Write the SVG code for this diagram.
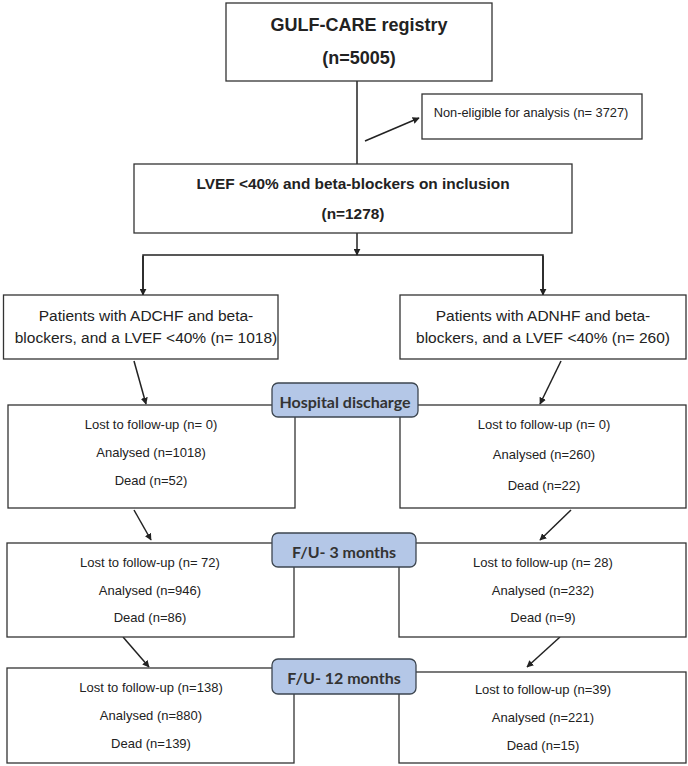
<svg xmlns="http://www.w3.org/2000/svg" width="688" height="766" viewBox="0 0 688 766">
<style>
.box{fill:#fff;stroke:#333;stroke-width:1.3}
.lbl{fill:#b4c7e7;stroke:#3d4650;stroke-width:1.3}
.t{font-family:"Liberation Sans",Arial,sans-serif;fill:#222;text-anchor:middle;dominant-baseline:central}
.tb{font-family:"Liberation Sans",Arial,sans-serif;font-weight:bold;fill:#222;text-anchor:middle;dominant-baseline:central}
.tl{font-family:Lato,"Open Sans",sans-serif;font-weight:bold;fill:#333;text-anchor:middle;dominant-baseline:central;font-size:16px}
.c{stroke:#222;stroke-width:1.5;fill:none}
.ca{stroke:#222;stroke-width:1.5;fill:none;marker-end:url(#ah)}
</style>
<defs>
<marker id="ah" viewBox="0 0 10 10" refX="9" refY="5" markerWidth="7" markerHeight="7" markerUnits="userSpaceOnUse" orient="auto">
<path d="M0,0 L10,5 L0,10 z" fill="#222"/>
</marker>
</defs>
<rect width="688" height="766" fill="#fff"/>
<g id="connectors">
<line class="c" x1="357" y1="81" x2="357" y2="164"/>
<line class="ca" x1="365" y1="141" x2="419" y2="118"/>
<line class="ca" x1="357" y1="233" x2="357" y2="255"/>
<polyline class="c" points="143,295 143,255 543,255 543,295"/>
<line class="ca" x1="143" y1="256" x2="143" y2="295"/>
<line class="ca" x1="543" y1="256" x2="543" y2="295"/>
<line class="ca" x1="134" y1="361" x2="146" y2="404"/>
<line class="ca" x1="561" y1="361" x2="540" y2="404"/>
<line class="ca" x1="134" y1="510" x2="151" y2="540"/>
<line class="ca" x1="571" y1="510" x2="540" y2="540"/>
<line class="ca" x1="123" y1="637" x2="149" y2="667"/>
<line class="ca" x1="560" y1="637" x2="527" y2="667"/>
</g>
<g id="registry">
<rect class="box" x="226" y="3" width="266" height="78"/>
<text class="tb" x="359" y="25" font-size="18">GULF-CARE registry</text>
<text class="tb" x="359" y="58" font-size="18">(n=5005)</text>
</g>
<g id="noneligible">
<rect class="box" x="422" y="94" width="220" height="45"/>
<text class="t" x="531" y="112" font-size="12.8">Non-eligible for analysis (n= 3727)</text>
</g>
<g id="lvef">
<rect class="box" x="134" y="164" width="438" height="69"/>
<text class="tb" x="353" y="183" font-size="15.4">LVEF &lt;40% and beta-blockers on inclusion</text>
<text class="tb" x="353" y="213" font-size="15.4">(n=1278)</text>
</g>
<g id="adchf">
<rect class="box" x="3.5" y="295" width="274.5" height="64"/>
<text class="t" x="146" y="315" font-size="15.5">Patients with ADCHF and beta-</text>
<text class="t" x="146" y="337" font-size="15.5">blockers, and a LVEF &lt;40% (n= 1018)</text>
</g>
<g id="adnhf">
<rect class="box" x="400" y="295" width="286" height="64"/>
<text class="t" x="543" y="315" font-size="15.5">Patients with ADNHF and beta-</text>
<text class="t" x="543" y="337" font-size="15.5">blockers, and a LVEF &lt;40% (n= 260)</text>
</g>
<g id="left-discharge">
<rect class="box" x="8" y="405" width="287" height="103"/>
<text class="t" x="151" y="424" font-size="13">Lost to follow-up (n= 0)</text>
<text class="t" x="151" y="452" font-size="13">Analysed (n=1018)</text>
<text class="t" x="151" y="480" font-size="13">Dead (n=52)</text>
</g>
<g id="right-discharge">
<rect class="box" x="400" y="405" width="286" height="103"/>
<text class="t" x="544" y="424" font-size="13">Lost to follow-up (n= 0)</text>
<text class="t" x="544" y="454" font-size="13">Analysed (n=260)</text>
<text class="t" x="544" y="485" font-size="13">Dead (n=22)</text>
</g>
<g id="hospital-discharge">
<rect class="lbl" x="272" y="383" width="146" height="34" rx="6"/>
<text class="tl" x="345" y="401">Hospital discharge</text>
</g>
<g id="left-3m">
<rect class="box" x="7" y="543" width="287" height="94"/>
<text class="t" x="150" y="562" font-size="13">Lost to follow-up (n= 72)</text>
<text class="t" x="150" y="590" font-size="13">Analysed (n=946)</text>
<text class="t" x="150" y="617" font-size="13">Dead (n=86)</text>
</g>
<g id="right-3m">
<rect class="box" x="399" y="543" width="287" height="94"/>
<text class="t" x="543" y="562" font-size="13">Lost to follow-up (n= 28)</text>
<text class="t" x="543" y="590" font-size="13">Analysed (n=232)</text>
<text class="t" x="543" y="617" font-size="13">Dead (n=9)</text>
</g>
<g id="fu-3">
<rect class="lbl" x="272" y="533" width="144" height="34" rx="6"/>
<text class="tl" x="344" y="551">F/U- 3 months</text>
</g>
<g id="left-12m">
<rect class="box" x="7" y="668" width="287" height="95"/>
<text class="t" x="151" y="687" font-size="13">Lost to follow-up (n=138)</text>
<text class="t" x="151" y="715" font-size="13">Analysed (n=880)</text>
<text class="t" x="151" y="743" font-size="13">Dead (n=139)</text>
</g>
<g id="right-12m">
<rect class="box" x="399" y="672" width="287" height="91"/>
<text class="t" x="543" y="689" font-size="13">Lost to follow-up (n=39)</text>
<text class="t" x="543" y="717" font-size="13">Analysed (n=221)</text>
<text class="t" x="543" y="745" font-size="13">Dead (n=15)</text>
</g>
<g id="fu-12">
<rect class="lbl" x="272" y="659" width="144" height="35" rx="6"/>
<text class="tl" x="344" y="677">F/U- 12 months</text>
</g>
</svg>
